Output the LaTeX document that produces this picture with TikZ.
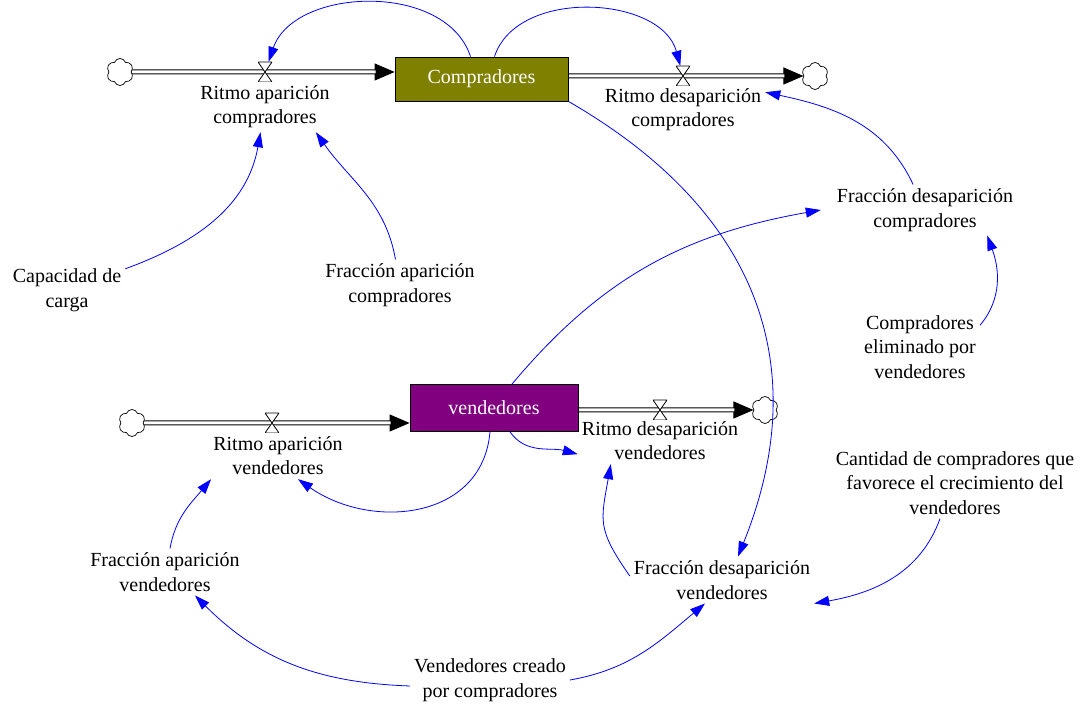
\documentclass[tikz,border=0pt]{standalone}
\usepackage{fontspec}
\setmainfont{Liberation Serif}
\usetikzlibrary{arrows.meta,positioning,shapes.symbols,backgrounds}
\definecolor{stockC}{RGB}{128,128,0}
\definecolor{stockV}{RGB}{128,0,128}
\definecolor{linkblue}{RGB}{0,0,255}

\begin{document}
\begin{tikzpicture}[
    x=1pt, y=1pt,
    every node/.style={font=\fontsize{20}{24.5}\selectfont},
    var/.style={align=center, inner sep=4pt},
    stock/.style={draw=black, line width=0.8pt, rectangle, inner sep=0pt,
                text=white, minimum height=44, minimum width=173},
    cloudy/.style={cloud, draw=black, line width=0.7pt, cloud puffs=6,
                cloud puff arc=140, aspect=1, minimum width=27,
                minimum height=27, inner sep=0pt, fill=white},
    valve/.style={minimum width=14, minimum height=20, inner sep=0pt,
                path picture={\draw[fill=white, line width=0.8pt]
                  (path picture bounding box.north west) -- (path picture bounding box.north east)
                  -- (path picture bounding box.south west) -- (path picture bounding box.south east) -- cycle;}},
    pipe/.style={double, double distance=3pt, line width=1pt, shorten >=19pt},
    pipetip/.style={line width=1pt, -{Triangle[length=20pt,width=17pt]}},
    link/.style={draw=linkblue, line width=0.8pt, -{Triangle[length=15pt,width=10pt]}}
]
  \useasboundingbox (0,0) rectangle (1080,706);

  % --- Stocks ---
  \node[stock, fill=stockC] (Compradores) at (481.5,627) {Compradores};
  \node[stock, fill=stockV, minimum width=168, minimum height=47] (vendedores) at (494,298) {vendedores};

  % --- Clouds ---
  \node[cloudy] (cAC) at (120,634) {};
  \node[cloudy] (cDC) at (815,630) {};
  \node[cloudy] (cAV) at (132,283) {};
  \node[cloudy] (cDV) at (765,296) {};

  % --- Pipes ---
  \begin{pgfonlayer}{background}
    \draw[pipetip] (cAC) -- (Compradores.west |- cAC);
    \draw[pipe]    (cAC) -- (Compradores.west |- cAC);
    \draw[pipetip] (Compradores.east |- cDC) -- (cDC);
    \draw[pipe]    (Compradores.east |- cDC) -- (cDC);
    \draw[pipetip] (cAV) -- (vendedores.west |- cAV);
    \draw[pipe]    (cAV) -- (vendedores.west |- cAV);
    \draw[pipetip] (vendedores.east |- cDV) -- (cDV);
    \draw[pipe]    (vendedores.east |- cDV) -- (cDV);
  \end{pgfonlayer}

  % --- Valves and rates ---
  \node[valve] (vAC) at (265,634) {};
  \node[valve] (vDC) at (683,630) {};
  \node[valve] (vAV) at (272,283) {};
  \node[valve] (vDV) at (660,296) {};
  \node[var, below=-1pt of vAC] (rAC) {Ritmo aparición\\compradores};
  \node[var, below=-2pt of vDC] (rDC) {Ritmo desaparición\\compradores};
  \node[var, below=-1pt of vAV, xshift=6] (rAV) {Ritmo aparición\\vendedores};
  \node[var, below=-3pt of vDV] (rDV) {Ritmo desaparición\\vendedores};

  % --- Auxiliaries ---
  \node[var] (CC)  at (67,416)  {Capacidad de\\carga};
  \node[var] (FAC) at (400,421) {Fracción aparición\\compradores};
  \node[var] (FDC) at (925,496) {Fracción desaparición\\compradores};
  \node[var] (CEV) at (920,359) {Compradores\\eliminado por\\vendedores};
  \node[var] (CCF) at (955,223) {Cantidad de compradores que\\favorece el crecimiento del\\vendedores};
  \node[var] (FAV) at (165,134) {Fracción aparición\\vendedores};
  \node[var] (FDV) at (722,126) {Fracción desaparición\\vendedores};
  \node[var] (VCC) at (490,26)  {Vendedores creado\\por compradores};

  % --- Links ---
  \draw[link] ([xshift=-11]Compradores.north) to[out=108,in=71] (vAC);
  \draw[link] ([xshift=13]Compradores.north) to[out=72,in=105] (vDC);
  \draw[link] (CC) to[out=20,in=-100] (rAC);
  \draw[link] (FAC) to[out=100,in=-55] ([xshift=-18]rAC.south east);
  \draw[link] (FDC) to[out=115,in=-12] (rDC.12);
  \draw[link] ([yshift=-14]CEV.north east) to[out=50,in=-70] ([xshift=-30]FDC.south east);
  \draw[link] ([xshift=18]vendedores.north) to[out=50,in=190] ([xshift=-12]FDC.west);
  \draw[link] (Compradores.south east) .. controls +(-30:235) and +(68:190) .. ([xshift=16]FDV.north);
  \draw[link] ([xshift=-4]vendedores.south) to[out=-95,in=-35,looseness=1.15] ([xshift=20]rAV.south);
  \draw[link] ([xshift=16]vendedores.south) to[out=-55,in=165] ([yshift=10]rDV.south west);
  \draw[link] ([xshift=5]FAV.north) to[out=80,in=-130] ([xshift=2]rAV.south west);
  \draw[link] ([yshift=4]FDV.west) to[out=125,in=-100,looseness=1.3] ([xshift=33]rDV.south west);
  \draw[link] ([xshift=-15]CCF.south) to[out=-110,in=10] (FDV.south east);
  \draw[link] ([yshift=-6]VCC.west) to[out=178,in=-45] ([xshift=30]FAV.south);
  \draw[link] (VCC.east) to[out=10,in=-140] ([xshift=-17]FDV.south);
\end{tikzpicture}
\end{document}
